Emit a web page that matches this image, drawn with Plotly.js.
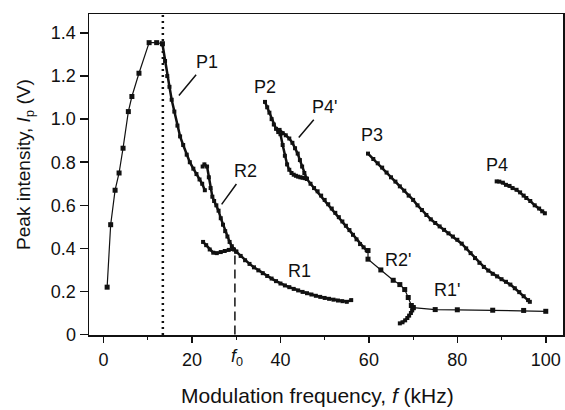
<!DOCTYPE html>
<html>
<head>
<meta charset="utf-8">
<script src="https://cdn.plot.ly/plotly-3.0.1.min.js"></script>
<style>html,body{margin:0;padding:0;background:#fff;}#chart{width:565px;height:410px;}</style>
</head>
<body>
<div id="chart"></div>
<script>
// ---- data (kHz, V) ----
var riseX = [0.8, 1.6, 2.6, 3.5, 4.4, 5.6, 6.4, 8.0, 10.3, 12.0, 13.3];
var riseY = [0.22, 0.51, 0.67, 0.75, 0.865, 1.035, 1.105, 1.213, 1.355, 1.355, 1.35];

var p1X = [13.3, 13.9, 14.4, 14.9, 15.4, 16.0, 16.7, 17.3, 18.0, 18.8, 19.5, 20.3, 21.0, 21.7, 22.3, 22.9];
var p1Y = [1.35, 1.27, 1.20, 1.15, 1.09, 1.035, 0.97, 0.92, 0.88, 0.835, 0.80, 0.77, 0.745, 0.72, 0.70, 0.67];

var r2X = [22.4, 22.8, 23.4, 23.8, 24.2, 24.6, 25.0, 25.5, 26.0, 26.5, 27.0, 27.5, 28.0, 28.5, 29.0, 29.5, 30.0];
var r2Y = [0.78, 0.79, 0.78, 0.73, 0.68, 0.64, 0.62, 0.60, 0.575, 0.54, 0.51, 0.48, 0.455, 0.43, 0.41, 0.395, 0.385];

var r1X = [22.5, 23.2, 24.0, 24.8, 25.6, 26.5, 27.4, 28.3, 29.2, 30.0, 31, 32, 33, 34, 35, 36, 37, 38, 39, 40, 41, 42, 43, 44, 45, 46, 47, 48, 49, 50, 51, 52, 53, 54, 55, 56];
var r1Y = [0.43, 0.415, 0.395, 0.38, 0.378, 0.383, 0.388, 0.393, 0.397, 0.385, 0.365, 0.345, 0.328, 0.312, 0.298, 0.285, 0.272, 0.26, 0.248, 0.237, 0.228, 0.22, 0.212, 0.205, 0.198, 0.192, 0.186, 0.18, 0.175, 0.17, 0.166, 0.162, 0.158, 0.155, 0.152, 0.16];

var p2X = [36.5, 37.0, 37.5, 38.0, 38.5, 39.0, 39.5, 40.0, 40.5, 41.0, 41.5, 42.0, 42.5, 43.0, 43.5, 44.0, 44.5, 45.0, 45.5, 46.0, 46.8, 47.6, 48.4, 49.2, 50.0, 50.8, 51.6, 52.4, 53.2, 54.0, 54.8, 55.6, 56.4, 57.2, 58.0, 58.8, 59.5];
var p2Y = [1.08, 1.055, 1.03, 1.0, 0.975, 0.955, 0.94, 0.93, 0.88, 0.83, 0.79, 0.765, 0.75, 0.742, 0.737, 0.733, 0.73, 0.728, 0.726, 0.722, 0.70, 0.68, 0.665, 0.645, 0.625, 0.605, 0.585, 0.565, 0.545, 0.525, 0.505, 0.485, 0.463, 0.442, 0.42, 0.405, 0.392];

var p4pX = [39.8, 40.5, 41.2, 42.0, 42.7, 43.3, 43.9, 44.4, 44.9, 45.4, 45.9];
var p4pY = [0.95, 0.935, 0.925, 0.91, 0.89, 0.865, 0.84, 0.81, 0.78, 0.75, 0.725];

var r2pX = [59.8, 59.8, 62.7, 65.5, 67.0, 68.1, 68.9, 69.6, 70.0];
var r2pY = [0.39, 0.35, 0.30, 0.252, 0.232, 0.209, 0.172, 0.135, 0.125];

var hookX = [70.0, 69.8, 69.5, 69.1, 68.7, 68.2, 67.6, 67.0];
var hookY = [0.125, 0.112, 0.10, 0.088, 0.077, 0.066, 0.057, 0.052];

var r1pX = [70, 75, 80, 88, 95, 100];
var r1pY = [0.125, 0.116, 0.115, 0.113, 0.112, 0.108];

var p3X = [59.8, 61, 62, 63, 64, 65, 66, 67, 68, 69, 70, 71, 72, 73, 74, 75, 76, 77, 78, 79, 80, 81, 82, 83, 84, 85, 86, 87, 88, 89, 90, 91, 92, 93, 94, 95, 96, 96.4];
var p3Y = [0.84, 0.815, 0.795, 0.775, 0.752, 0.73, 0.71, 0.688, 0.668, 0.645, 0.625, 0.6, 0.578, 0.555, 0.535, 0.518, 0.502, 0.486, 0.47, 0.455, 0.44, 0.422, 0.4, 0.378, 0.355, 0.333, 0.314, 0.297, 0.282, 0.27, 0.257, 0.245, 0.232, 0.215, 0.197, 0.178, 0.16, 0.152];

var p4X = [88.9, 89.5, 90.3, 91.0, 91.8, 92.5, 93.4, 94.2, 95.0, 95.6, 96.5, 97.5, 98.5, 99.2, 99.8];
var p4Y = [0.711, 0.71, 0.705, 0.695, 0.69, 0.68, 0.672, 0.66, 0.645, 0.634, 0.62, 0.6, 0.585, 0.572, 0.563];

var peakF = 13.4;          // dotted line
var f0 = 29.7;             // dashed line
var f0Level = 0.40;

var xTicks = [0, 20, 40, 60, 80, 100];
var yTicks = [0, 0.2, 0.4, 0.6, 0.8, 1.0, 1.2, 1.4];
var yTickText = ['0', '0.2', '0.4', '0.6', '0.8', '1.0', '1.2', '1.4'];

var xTitle = 'Modulation frequency, <i>f</i> (kHz)';
var yTitle = 'Peak intensity, <i>I</i><sub>p</sub> (V)';

// ---- styling ----
var ink = '#111';
var FONT = 'Liberation Sans, Arial, Helvetica, sans-serif';

function sparse(x, y) {
  return {x: x, y: y, mode: 'lines+markers', type: 'scatter', hoverinfo: 'skip',
    line: {color: ink, width: 1.2}, marker: {symbol: 'square', size: 5, color: ink}};
}
function dense(x, y) {
  return {x: x, y: y, mode: 'lines+markers', type: 'scatter', hoverinfo: 'skip',
    line: {color: ink, width: 2.5}, marker: {symbol: 'square', size: 4, color: ink}};
}

var traces = [
  {x: [f0, f0], y: [0, f0Level], mode: 'lines', type: 'scatter', hoverinfo: 'skip',
   line: {color: ink, width: 1.5, dash: '9px,5px'}},
  sparse(riseX, riseY),
  dense(p1X, p1Y),
  dense(r2X, r2Y),
  dense(r1X, r1Y),
  dense(p2X, p2Y),
  dense(p4pX, p4pY),
  sparse(r2pX, r2pY),
  dense(hookX, hookY),
  sparse(r1pX, r1pY),
  dense(p3X, p3Y),
  dense(p4X, p4Y)
];

var labelFont = {family: FONT, size: 18, color: ink};
function lab(text, x, y) {
  return {text: text, x: x, y: y, xref: 'x', yref: 'y', showarrow: false, font: labelFont};
}
function leader(text, x, y, ax, ay) {
  return {text: text, x: x, y: y, xref: 'x', yref: 'y', showarrow: true, ax: ax, ay: ay,
    arrowhead: 0, arrowwidth: 1.5, arrowcolor: ink, standoff: 3, startstandoff: 2, font: labelFont};
}

var layout = {
  width: 565, height: 410,
  margin: {l: 89, r: 2, t: 14, b: 75},
  paper_bgcolor: '#fff', plot_bgcolor: '#fff',
  showlegend: false,
  font: {family: FONT, color: ink},
  xaxis: {
    range: [-3.3, 103.9], showgrid: false, zeroline: false,
    showline: true, linecolor: ink, linewidth: 1.5, mirror: true,
    tickmode: 'array', tickvals: xTicks, ticks: 'outside', ticklen: 6, tickwidth: 1.5, tickcolor: ink,
    minor: {dtick: 10, tick0: 0, ticks: 'outside', ticklen: 3, tickwidth: 1.2, tickcolor: ink},
    tickfont: {family: FONT, size: 18, color: ink}, ticklabelstandoff: 2
  },
  yaxis: {
    range: [-0.002, 1.488], showgrid: false, zeroline: false,
    showline: true, linecolor: ink, linewidth: 1.5, mirror: true,
    tickmode: 'array', tickvals: yTicks, ticktext: yTickText,
    ticks: 'outside', ticklen: 8, tickwidth: 1.5, tickcolor: ink,
    tickfont: {family: FONT, size: 18, color: ink}
  },
  shapes: [
    {type: 'line', xref: 'x', yref: 'paper', x0: peakF, x1: peakF, y0: 0, y1: 1,
     line: {color: ink, width: 2.5, dash: '2px,4px'}}
  ],
  annotations: [
    leader('P1', 16.6, 1.099, 30, -36),
    leader('R2', 26.3, 0.593, 26, -36),
    leader("P4'", 43.7, 0.904, 28, -33),
    lab('P2', 36.5, 1.15),
    lab('P3', 60.7, 0.927),
    lab('P4', 88.9, 0.788),
    lab('R1', 44.4, 0.297),
    lab("R2'", 66.6, 0.348),
    lab("R1'", 77.6, 0.209),
    {text: '<i>f</i><sub>0</sub>', x: f0, y: 0, xref: 'x', yref: 'paper', yanchor: 'top',
     showarrow: false, yshift: -9, xshift: 2, font: {family: FONT, size: 18, color: ink}},
    {text: xTitle, xref: 'paper', yref: 'paper', x: 0.483, y: -0.19, xanchor: 'center', yanchor: 'middle',
     showarrow: false, font: {family: FONT, size: 21, color: ink}},
    {text: yTitle, xref: 'paper', yref: 'paper', x: -0.135, y: 0.53, xanchor: 'center', yanchor: 'middle',
     textangle: -90, showarrow: false, font: {family: FONT, size: 19, color: ink}}
  ]
};

Plotly.newPlot('chart', traces, layout, {displayModeBar: false, staticPlot: true});
</script>
</body>
</html>
